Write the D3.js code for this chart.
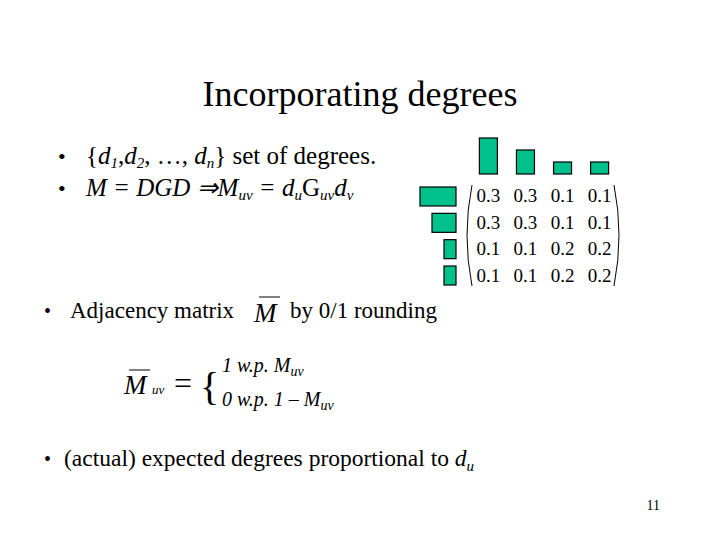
<!DOCTYPE html>
<html><head><meta charset="utf-8">
<script src="https://cdn.jsdelivr.net/npm/d3@7"></script>
<style>body{margin:0;background:#fff}svg{display:block}</style>
</head><body>
<script>
const degrees = [3, 2, 1, 1];
const matrix = [[0.3,0.3,0.1,0.1],[0.3,0.3,0.1,0.1],[0.1,0.1,0.2,0.2],[0.1,0.1,0.2,0.2]];

const svg = d3.select("body").append("svg").attr("width",720).attr("height",540);
const F = "'Liberation Serif', serif";
const t = (x,y,s,size,opt={}) => svg.append("text").attr("x",x).attr("y",y)
  .attr("font-family",F).attr("font-size",size).attr("fill","#000")
  .attr("font-style",opt.it?"italic":null).attr("text-anchor",opt.anchor||"start").html(s);

t(360,106,"Incorporating degrees",36,{anchor:"middle"});
t(58,164,"•",22); t(58,196,"•",22);
t(86,164,'{<tspan font-style="italic">d</tspan><tspan font-style="italic" font-size="15" dy="4">1</tspan><tspan dy="-4">,</tspan><tspan font-style="italic">d</tspan><tspan font-style="italic" font-size="15" dy="4">2</tspan><tspan dy="-4">, …, </tspan><tspan font-style="italic">d</tspan><tspan font-style="italic" font-size="15" dy="4">n</tspan><tspan dy="-4">} set of degrees.</tspan>',25);
t(86,196,'<tspan font-style="italic">M = DGD ⇒M</tspan><tspan font-style="italic" font-size="15" dy="4">uv</tspan><tspan font-style="italic" dy="-4"> = d</tspan><tspan font-style="italic" font-size="15" dy="4">u</tspan><tspan dy="-4">G</tspan><tspan font-style="italic" font-size="15" dy="4">uv</tspan><tspan font-style="italic" dy="-4">d</tspan><tspan font-style="italic" font-size="15" dy="4">v</tspan>',25);

// matrix
const col = d3.scaleBand().domain(d3.range(4)).range([468,620]).padding(0.1);
const row = d3.scaleBand().domain(d3.range(4)).range([182,290]).padding(0.1);
const len = d3.scaleLinear().domain([0,3]).range([0,36]);
svg.selectAll(".tb").data(degrees).join("rect")
  .attr("x",(d,i)=>col(i)+col.bandwidth()/2-9).attr("width",18)
  .attr("y",d=>174-len(d)).attr("height",d=>len(d))
  .attr("fill","#00c08b").attr("stroke","#000").attr("stroke-width",1.2);
svg.selectAll(".lb").data(degrees).join("rect")
  .attr("x",d=>456-len(d)).attr("width",d=>len(d))
  .attr("y",(d,i)=>row(i)+row.bandwidth()/2-9.5).attr("height",19)
  .attr("fill","#00c08b").attr("stroke","#000").attr("stroke-width",1.2);
matrix.forEach((r,i)=>r.forEach((v,j)=>{
  t(col(j)+col.bandwidth()/2, row(i)+row.bandwidth()/2+6, d3.format(".1f")(v), 19, {anchor:"middle"});
}));
svg.append("path").attr("d","M472,185 Q462,235 472,286").attr("fill","none").attr("stroke","#000").attr("stroke-width",1);
svg.append("path").attr("d","M614,185 Q624,235 614,286").attr("fill","none").attr("stroke","#000").attr("stroke-width",1);

t(44,318,"•",20);
t(70,318,"Adjacency matrix",23);
t(254,322,"M",27,{it:true});
svg.append("line").attr("x1",259).attr("x2",280).attr("y1",297).attr("y2",297).attr("stroke","#000");
t(290,318,"by  0/1 rounding",23);

t(124,394,"M",27,{it:true});
svg.append("line").attr("x1",129).attr("x2",150).attr("y1",370).attr("y2",370).attr("stroke","#000");
t(152,394,"uv",13,{it:true});
t(174,394,"=",32);
t(200,400,"{",40);
t(222,372,'1 w.p. M<tspan font-size="14" dy="4">uv</tspan>',20,{it:true});
t(222,406,'0 w.p. 1 – M<tspan font-size="14" dy="4">uv</tspan>',20,{it:true});

t(44,466,"•",20);
t(64,466,'(actual) expected degrees proportional to <tspan font-style="italic">d</tspan><tspan font-style="italic" font-size="15" dy="5">u</tspan>',23.5);
t(660,510,"11",14,{anchor:"end"});
</script>
</body></html>
